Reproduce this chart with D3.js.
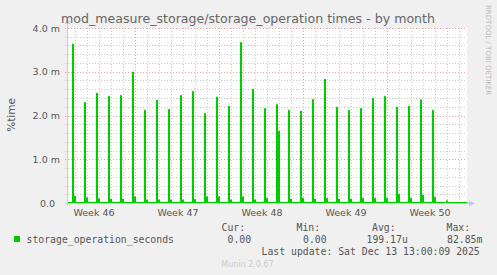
<!DOCTYPE html>
<html>
<head>
<meta charset="utf-8">
<script src="https://cdn.jsdelivr.net/npm/d3@7"></script>
<style>
  body { margin: 0; background: #f0f0f0; }
  svg { display: block; }
  text { font-family: "DejaVu Sans", sans-serif; fill: #555; }
  .mono { font-family: "DejaVu Sans Mono", monospace; white-space: pre; }
</style>
</head>
<body>
<svg id="chart" width="497" height="275"></svg>
<script>
// Time window of the graph (munin month view, 2h per pixel)
const startTime = new Date(Date.UTC(2025, 10, 10, 8));
const endTime = new Date(Date.UTC(2025, 11, 13, 16));

// One daily job run, Nov 10 .. Dec 11 (values in milli-%time)
const runDays = ["2025-11-10", "2025-11-11", "2025-11-12", "2025-11-13", "2025-11-14", "2025-11-15",
    "2025-11-16", "2025-11-17", "2025-11-18", "2025-11-19", "2025-11-20", "2025-11-21", "2025-11-22",
    "2025-11-23", "2025-11-24", "2025-11-25", "2025-11-26", "2025-11-27", "2025-11-28", "2025-11-29",
    "2025-11-30", "2025-12-01", "2025-12-02", "2025-12-03", "2025-12-04", "2025-12-05", "2025-12-06",
    "2025-12-07", "2025-12-08", "2025-12-09", "2025-12-10", "2025-12-11"];
const peakValues = [3.62, 2.29, 2.50, 2.43, 2.45, 2.98, 2.11, 2.34, 2.13, 2.45, 2.54, 2.04, 2.41, 2.20,
    3.66, 2.59, 2.15, 2.24, 2.11, 2.09, 2.36, 2.82, 2.18, 2.11, 2.15, 2.38, 2.43, 2.18, 2.20, 2.35, 2.11, 0];
const afterValues = [0.15, 0.11, 0.09, 0.08, 0.08, 0.13, 0.06, 0.06, 0.06, 0.06, 0.07, 0.13, 0.13, 0.06,
    0.13, 0.06, 0.10, 1.63, 0.08, 0.10, 0.08, 0.10, 0.08, 0.08, 0.10, 0.10, 0.10, 0.19, 0.10, 0.17, 0.12, 0.04];
// NOTE: index 17 (Nov 26) carries the second run of that day

const yTicks = [0, 1, 2, 3, 4];
const weekLabels = ["Week 46", "Week 47", "Week 48", "Week 49", "Week 50"];
const weekLabelDates = ["2025-11-12T14:00Z", "2025-11-19T14:00Z", "2025-11-26T14:00Z", "2025-12-03T14:00Z", "2025-12-10T14:00Z"];

const legendName = "storage_operation_seconds";
const legendStats = [["Cur:", "0.00"], ["Min:", "0.00"], ["Avg:", "199.17u"], ["Max:", "82.85m"]];

const HOUR = 3600 * 1000;

// build the stepped series from the daily runs
function buildSeries() {
    const pts = [{ t: startTime, v: 0 }];
    runDays.forEach((day, i) => {
        const base = new Date(day + "T18:00Z").getTime();
        pts.push({ t: new Date(base), v: peakValues[i] });
        pts.push({ t: new Date(base + 2 * HOUR), v: 0 });
        pts.push({ t: new Date(base + 4 * HOUR), v: afterValues[i] });
        pts.push({ t: new Date(base + 6 * HOUR), v: 0 });
    });
    pts.push({ t: endTime, v: 0 });
    return pts;
}

function drawChart() {
    const svg = d3.select('#chart');
    const plot = { left: 67, right: 467, top: 28, bottom: 203 };

    const x = d3.scaleUtc().domain([startTime, endTime]).range([plot.left, plot.right]);
    const y = d3.scaleLinear().domain([0, 4]).range([plot.bottom, plot.top]);

    svg.append('rect')
        .attr('x', plot.left).attr('y', plot.top)
        .attr('width', plot.right - plot.left).attr('height', plot.bottom - plot.top)
        .attr('fill', '#fff');

    // grid
    const grid = svg.append('g').attr('shape-rendering', 'crispEdges');
    const minorY = d3.range(0.2, 4.01, 0.2).filter(d => Math.abs(d - Math.round(d)) > 0.01);
    grid.selectAll('.hminor').data(minorY).enter().append('line')
        .attr('x1', plot.left - 2).attr('x2', plot.right)
        .attr('y1', d => Math.round(y(d)) + 0.5).attr('y2', d => Math.round(y(d)) + 0.5)
        .attr('stroke', '#c8c8c8').attr('stroke-dasharray', '1,2');
    const days = d3.utcDay.range(startTime, endTime).filter(d => d.getUTCDay() !== 0);
    grid.selectAll('.vminor').data(days).enter().append('line')
        .attr('x1', d => Math.round(x(d)) + 0.5).attr('x2', d => Math.round(x(d)) + 0.5)
        .attr('y1', plot.top).attr('y2', plot.bottom + 2)
        .attr('stroke', '#c8c8c8').attr('stroke-dasharray', '1,2');
    grid.selectAll('.hmajor').data(yTicks.slice(1)).enter().append('line')
        .attr('x1', plot.left - 2).attr('x2', plot.right)
        .attr('y1', d => Math.round(y(d)) + 0.5).attr('y2', d => Math.round(y(d)) + 0.5)
        .attr('stroke', '#e8a0a0').attr('stroke-dasharray', '1,2');
    const weeks = d3.utcSunday.range(startTime, endTime);
    grid.selectAll('.vmajor').data(weeks).enter().append('line')
        .attr('x1', d => Math.round(x(d)) + 0.5).attr('x2', d => Math.round(x(d)) + 0.5)
        .attr('y1', plot.top).attr('y2', plot.bottom + 2)
        .attr('stroke', '#e8a0a0').attr('stroke-dasharray', '1,2');

    // data
    const series = buildSeries();
    svg.append('path')
        .datum(series)
        .attr('fill', '#00cc00').attr('fill-opacity', 0.5)
        .attr('shape-rendering', 'crispEdges')
        .attr('d', d3.area().curve(d3.curveStepAfter).x(d => x(d.t) + 1).y0(y(0)).y1(d => y(d.v)));
    svg.append('path')
        .datum(series)
        .attr('fill', 'none').attr('stroke', '#00cc00').attr('stroke-width', 1)
        .attr('d', d3.line().curve(d3.curveStepAfter).x(d => x(d.t) + 0.5).y(d => y(d.v) - 0.5));

    // axes with arrows
    const axisColor = '#c8c8f0';
    svg.append('line').attr('x1', plot.left + 0.5).attr('x2', plot.left + 0.5)
        .attr('y1', plot.bottom + 2).attr('y2', plot.top - 5).attr('stroke', axisColor);
    svg.append('path').attr('d', `M${plot.left - 2.5},${plot.top - 4} L${plot.left + 3.5},${plot.top - 4} L${plot.left + 0.5},${plot.top - 9} Z`)
        .attr('fill', axisColor);
    svg.append('line').attr('x1', plot.left - 2).attr('x2', plot.right + 3)
        .attr('y1', plot.bottom + 0.5).attr('y2', plot.bottom + 0.5).attr('stroke', axisColor);
    svg.append('path').attr('d', `M${plot.right + 2},${plot.bottom - 2.5} L${plot.right + 2},${plot.bottom + 3.5} L${plot.right + 8},${plot.bottom + 0.5} Z`)
        .attr('fill', axisColor);

    // redraw zero level of the line over the axis
    svg.append('line').attr('x1', plot.left + 1).attr('x2', plot.right)
        .attr('y1', plot.bottom - 0.5).attr('y2', plot.bottom - 0.5)
        .attr('stroke', '#00cc00').attr('stroke-opacity', 0.6);

    // y labels
    svg.selectAll('.ylab').data(yTicks).enter().append('text')
        .attr('class', 'ylab')
        .attr('x', d => d === 0 ? 55 : 60)
        .attr('y', d => y(d) + 3.5)
        .attr('text-anchor', 'end')
        .style('font-size', '9.5px')
        .text(d => d === 0 ? "0.0" : d.toFixed(1) + " m");

    // week labels
    svg.selectAll('.xlab').data(weekLabels).enter().append('text')
        .attr('x', (d, i) => x(new Date(weekLabelDates[i])))
        .attr('y', 216)
        .attr('text-anchor', 'middle')
        .style('font-size', '9.5px')
        .text(d => d);

    // title + axis title
    svg.append('text').attr('x', 248).attr('y', 23).attr('text-anchor', 'middle')
        .style('font-size', '12.6px').style('fill', '#666')
        .text('mod_measure_storage/storage_operation times - by month');
    svg.append('text').attr('transform', 'translate(14.5,115) rotate(-90)')
        .attr('text-anchor', 'middle').style('font-size', '10.5px').text('%time');

    svg.append('text').attr('transform', 'translate(486,5) rotate(90)')
        .style('font-size', '7px').style('fill', '#bbb').text('RRDTOOL / TOBI OETIKER');

    // legend
    svg.append('rect').attr('x', 14).attr('y', 236).attr('width', 6).attr('height', 6).attr('fill', '#00cc00');
    svg.append('text').attr('class', 'mono').attr('x', 26.5).attr('y', 243)
        .style('font-size', '9.8px').text(legendName);
    const statX = [[221.5, 227.5], [296.5, 303], [372, 366.5], [446.5, 447]];
    legendStats.forEach((s, i) => {
        svg.append('text').attr('class', 'mono').attr('x', statX[i][0]).attr('y', 231)
            .style('font-size', '9.8px').text(s[0]);
        svg.append('text').attr('class', 'mono').attr('x', statX[i][1]).attr('y', 243)
            .style('font-size', '9.8px').text(s[1]);
    });
    svg.append('text').attr('class', 'mono').attr('x', 261.5).attr('y', 255)
        .style('font-size', '9.8px').text('Last update: Sat Dec 13 13:00:09 2025');

    svg.append('text').attr('x', 247.5).attr('y', 267).attr('text-anchor', 'middle')
        .style('font-size', '8px').style('fill', '#ccc').text('Munin 2.0.67');
}

drawChart();
</script>
</body>
</html>
